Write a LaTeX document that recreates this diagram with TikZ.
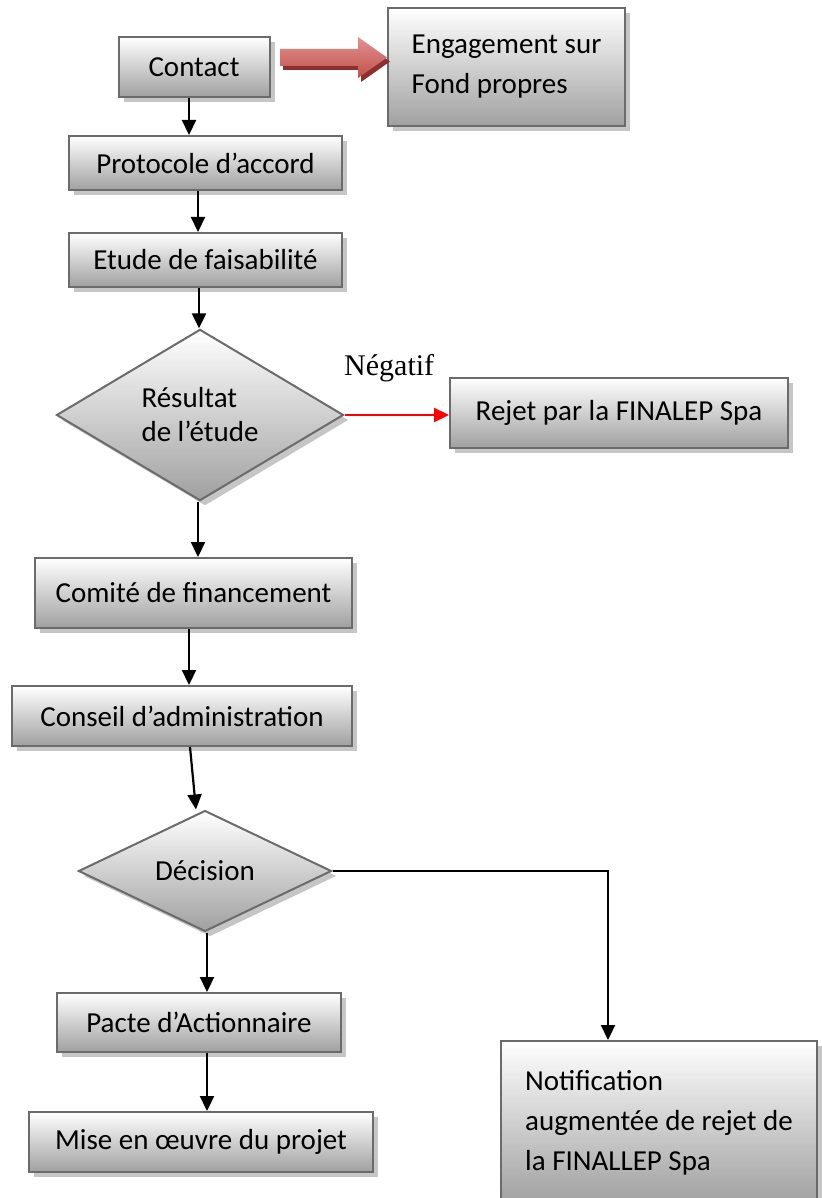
\documentclass[tikz,border=0pt]{standalone}
\usepackage{fontspec}
\setmainfont{Carlito}
\newfontfamily\timesfont{Liberation Serif}
\usepackage{xcolor}
\usetikzlibrary{arrows.meta,shapes.geometric,shadows}
\definecolor{boxborder}{HTML}{6B6B6B}
\definecolor{boxbottom}{HTML}{A0A0A0}
\definecolor{boxshadow}{HTML}{C6C6C6}
\definecolor{arrowlight}{HTML}{E3928F}
\definecolor{arrowred}{HTML}{C0504D}
\definecolor{arrowdark}{HTML}{8C2F2D}

\begin{document}
\begin{tikzpicture}[x=1pt, y=-1pt,
    stepbox/.style = {draw=boxborder, line width=2pt, top color=white, bottom color=boxbottom,
        drop shadow={shadow xshift=5pt, shadow yshift=-5pt, fill=boxshadow, opacity=1},
        inner sep=0pt, align=left, font=\fontsize{29}{40}\selectfont},
    choice/.style = {stepbox, diamond, font=\fontsize{29}{34}\selectfont},
    arr/.style = {line width=2.2pt, -{Triangle[length=15pt, width=14pt]}}]
    \useasboundingbox (0,0) rectangle (821,1198);

    \node[stepbox, minimum width=151pt, minimum height=60pt] (contact) at (194,67) {Contact};
    \node[stepbox, minimum width=237pt, minimum height=118pt] (engagement) at (506.5,67) {Engagement sur\\Fond propres};
    \node[stepbox, minimum width=273pt, minimum height=54pt] (protocole) at (205.5,163) {Protocole d’accord};
    \node[stepbox, minimum width=273pt, minimum height=54pt] (etude) at (205.5,260) {Etude de faisabilité};
    \node[choice, minimum width=287pt, minimum height=165pt] (resultat) at (200,415) {Résultat\\de l’étude};
    \node[stepbox, minimum width=338pt, minimum height=70pt] (rejet) at (619,413) {Rejet par la FINALEP Spa};
    \node[font=\timesfont\fontsize{30}{36}\selectfont, anchor=base west, inner sep=0pt] (negatif) at (344,375) {Négatif};
    \node[stepbox, minimum width=317pt, minimum height=70pt] (comite) at (193.5,593) {Comité de financement};
    \node[stepbox, minimum width=340pt, minimum height=60pt] (conseil) at (182,716) {Conseil d’administration};
    \node[choice, minimum width=253pt, minimum height=121pt] (decision) at (205,871) {Décision};
    \node[stepbox, minimum width=284pt, minimum height=59pt] (pacte) at (199,1022.5) {Pacte d’Actionnaire};
    \node[stepbox, minimum width=344pt, minimum height=60pt] (mise) at (201,1142) {Mise en œuvre du projet};
    \node[stepbox, minimum width=316pt, minimum height=163pt] (notif) at (659,1122.5) {Notification\\augmentée de rejet de\\la FINALLEP Spa};

    \shade[top color=arrowlight, bottom color=arrowred,
        drop shadow={shadow xshift=3pt, shadow yshift=-4pt, fill=arrowdark, opacity=1}]
        (contact.east) ++(9.5,-18) -- ++(78,0) -- ++(0,-12) -- ++(29,20.5) -- ++(-29,20.5) -- ++(0,-12) -- ++(-78,0) -- cycle;

    \draw[arr] ([xshift=-5pt]contact.south) -- ([xshift=-5pt]contact.south |- protocole.north);
    \draw[arr] ([xshift=-7.5pt]protocole.south) -- ([xshift=-7.5pt]etude.north);
    \draw[arr] ([xshift=-6.5pt]etude.south) -- ([xshift=-6.5pt]etude.south |- resultat.north);
    \draw[arr, red] (resultat.east) -- (resultat.east -| rejet.west);
    \draw[arr] ([xshift=-2pt]resultat.south) -- ([xshift=-2pt]resultat.south |- comite.north);
    \draw[arr] ([xshift=-4.5pt]comite.south) -- ([xshift=-4.5pt]comite.south |- conseil.north);
    \draw[arr] ([xshift=8pt]conseil.south) -- ([xshift=-9pt]decision.north);
    \draw[arr] (decision.east) -| ([xshift=-51pt]notif.north);
    \draw[arr] ([xshift=2pt]decision.south) -- ([xshift=2pt]decision.south |- pacte.north);
    \draw[arr] ([xshift=8pt]pacte.south) -- ([xshift=8pt]pacte.south |- mise.north);
\end{tikzpicture}
\end{document}
